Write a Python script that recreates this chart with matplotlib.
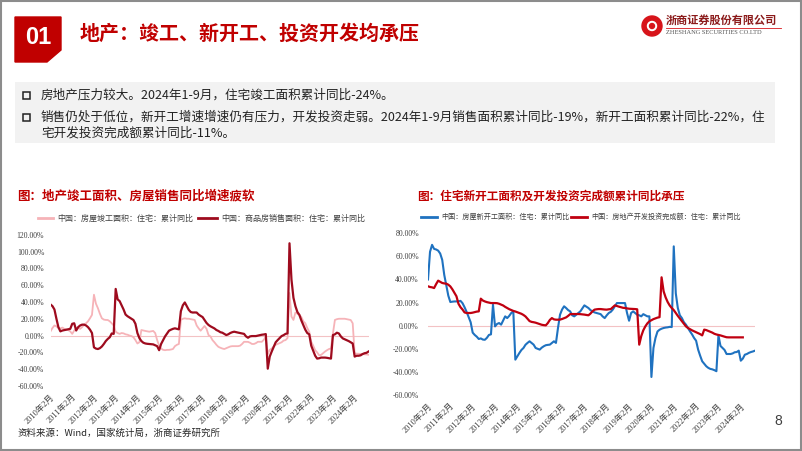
import matplotlib
matplotlib.use("Agg")
from matplotlib import pyplot as plt
from matplotlib.patches import Polygon, Rectangle, Circle

plt.rcParams['font.family'] = ['Noto Sans CJK SC', 'DejaVu Sans']
SERIF = ['Liberation Serif', 'Noto Sans CJK SC']

# x axis: Feb..Dec each year (Jan-Feb combined), 2024 up to Sep
years = list(range(2010, 2025))
tick_labels = [f"{y}年2月" for y in years]

# left chart: 住宅竣工面积 / 商品房销售面积(住宅), cumulative YoY %
completion = [
    5, 9, 12, 11, 9, 8.5, 9.5, 8, 7, 6.5, 5,                          # 2010
    2, 6, 8, 9, 8, 10, 13, 14.6, 17, 20.6, 24.6,                      # 2011
    48.6, 38, 32.6, 26, 20.6, 19, 18.6, 18.5, 17, 14.6, 12,           # 2012
    4.6, 3, 2, 3, 2.6, 1.5, 1, 0, -0.6, -2, -5.4,                     # 2013
    -9.4, -8, 6.6, 6, 5.5, 5, 4.6, 5, 5.5, 3, -5.4,                   # 2014
    -12, -15.4, -17, -17.4, -17, -17, -16.6, -16, -12.6, -11, -10,    # 2015
    18.6, 20, 20.5, 20, 20, 19.5, 19, 18.6, 12, 8.6, 5.8,             # 2016
    8.6, 11.4, 8, 0.6, -1, -5.4, -8, -11, -13.4, -14.5, -15.4,        # 2017
    -16, -15, -14, -13, -12.6, -12.6, -12.6, -12.6, -12, -10, -7.4,   # 2018
    -7.4, -7.5, -8.5, -10, -10, -9, -7.4, -7.4, -7.4, -5, -1.4,       # 2019
    -22, -17, -15.4, -13, -11, -10, -9, -8, -6, -5.4, -3,             # 2020
    50.6, 22.6, 18.6, 27.4, 26, 24.6, 22, 17, 14.6, 9, 4.6,           # 2021
    -7.4, -12, -17.4, -20, -23.4, -23, -21, -19, -17.4, -16, -15.4,   # 2022
    2.6, 18.6, 19.5, 20, 20, 20, 20, 19.5, 19, 18.5, 14.6,            # 2023
    -21.4, -21.5, -21.6, -21.8, -22, -22.3, -22.5, -22.8,             # 2024
]
sales = [
    37, 35, 31, 20, 10, 5, 6, 6.5, 7, 7.5, 8,
    14, 14.6, 6, 10, 12, 13, 13, 12, 10, 7, 3,
    -14, -15.5, -16, -15, -13, -10, -6.5, -4, -2, 2.5, 2,
    55.5, 43, 41, 36, 31, 25, 23, 21.5, 20, 18.5, 14,
    3, -3, -6.5, -8.5, -9.4, -9.8, -10, -10.2, -10.5, -11.5, -12.6,
    -17.4, -10, -5.4, -1, 2.5, 5.8, 7, 8, 8.6, 8, 7.4,
    29, 36, 39.4, 35, 30.6, 28, 27.4, 27.5, 27.4, 25, 23.4,
    22, 18.6, 15, 12.6, 11, 9.8, 8.5, 6.6, 5.5, 4, 3.4,
    2, 0.6, 1.5, 3, 4, 4.6, 4, 3.5, 3, 2.6, 2,
    -1, -2.6, -1, -0.6, -0.6, -0.6, 0, 0.5, 1, 1.3, 1.8,
    -39.4, -25, -19, -13.4, -8, -5.4, -3, -0.6, 0.5, 2, 2.6,
    109.8, 66.6, 45, 35, 28, 24.6, 18, 12.6, 7, 3, 1.5,
    -12, -18, -24, -27.4, -27, -26.2, -26.2, -26.2, -26.5, -27, -27.4,
    0.6, 1.5, 3.4, 2.5, -1, -3.4, -4.5, -5.5, -6.6, -8, -9.4,
    -25, -24, -24, -23.5, -22, -21, -20.5, -19,
]

# right chart: 住宅新开工面积 / 房地产开发投资完成额(住宅), cumulative YoY %
new_starts = [
    40, 64, 70, 66.5, 66, 65, 62.5, 57, 44, 35, 26,
    20.5, 20.8, 21, 21, 21.2, 21.5, 19.5, 16, 12, 7.5, 3,
    -6, -8, -9.5, -11.5, -11, -12, -12.2, -10.5, -8, -7.5, 18.2,
    -0.6, 1.5, 2.3, 0.9, 4.5, 8.1, 6.6, 8.5, 11, 12.4, -29.4,
    -26.5, -23.6, -21, -19.3, -16.5, -14.9, -13.5, -15, -16.4, -19.3, -20,
    -20.7, -19, -17.8, -16.9, -16.6, -16.4, -14.9, -13.5, -14.9, -2, 9.5,
    14, 16.8, 15.3, 13.5, 12.4, 9, 8.1, 9.5, 11, 12.4, 15,
    17.6, 16.5, 15.3, 13.5, 12.4, 11.5, 11, 10.5, 10, 8, 6.6,
    9, 11, 12, 14, 16.8, 19.6, 19.6, 19.6, 19.6, 19.6, 11,
    4.3, 11, 12.4, 11, 9.5, 9, 8.1, 10, 9, 8.1, 8.1,
    -44.4, -19.3, -10.6, -5, -3.5, -2.6, -2, -1.6, -1.4, -1, -1.2,
    68.7, 28, 15.3, 9, 6.6, 3, 0.9, -2, -4.9, -7.5, -10.6,
    -13, -20.7, -26, -30.8, -33, -35.1, -36.5, -37.4, -37.8, -38.5, -39.4,
    -8.4, -17.5, -19.3, -21, -24.5, -24.5, -24.5, -24, -23, -22.8, -21.6,
    -30.3, -28.5, -25.1, -24.5, -23.5, -22.8, -22.3, -21.6,
]
# this series has fewer points in the source chart, so it sits on the first categories
investment = [
    34.1, 33.5, 33.2, 32.6, 36, 39, 38, 37, 36.6, 36.4, 35.5,
    34, 31.5, 28.5, 25.5, 19, 16, 14, 11.5, 11, 11, 11,
    11.3, 11.8, 12.2, 12.4, 23.4, 21.8, 21, 20.4, 20, 19.6, 19.6,
    19.6, 19.5, 19, 18.3, 17.5, 16.3, 15.3, 14.3, 13.5, 12.8, 12.3,
    11.6, 11, 10.3, 9.3, 8, 6, 4, 3.3, 3, 2.6, 2,
    1.3, 0.8, 0.5, 0.3, 2.3, 5, 6.6, 5.5, 5.2, 5.2, 5.3,
    5.8, 6.5, 7.2, 8.5, 10, 10.1, 10.1, 10.1, 10.1, 10, 9.8,
    9.6, 9.3, 9, 10.5, 12.5, 13.9, 14.2, 14.4, 14.4, 14.2, 14,
    13.9, 14.2, 14.4, 16, 17.6, 17, 16.5, 16, 15.5, 15.3, 15,
    14.7, 14.6, 14.5, 14.4, 14.2, -16.4, -9, -4, -0.6, 2, 3.8,
    4.8, 5.7, 6.4, 7, 7.4, 41.9, 29.8, 24.5, 20.5, 17.5, 15.3,
    13.5, 11, 8.5, 6.2, 4, 1.5, -0.6, -2, -3, -4, -4.8,
    -5.5, -6.3, -7.3, -8.4, -3.4, -3.8, -4.5, -5.2, -6, -7, -7.6,
    -8, -8.4, -9, -9.5, -10, -10.1, -10.1, -10.1, -10.1, -10.1, -10.1, -10.1, -10.1,
]

RED = '#C00000'
W, H = 802, 451
fig = plt.figure(figsize=(W / 100, H / 100), dpi=100)

# background layer in pixel coordinates
bg = fig.add_axes([0, 0, 1, 1])
bg.set_xlim(0, W)
bg.set_ylim(H, 0)
bg.axis('off')

bg.add_patch(Rectangle((0.8, 0.8), W - 1.6, H - 1.6, fill=False, ec='#8c8c8c', lw=1.5))
bg.add_patch(Polygon([(15, 17), (61, 17), (61, 50), (47, 62), (15, 62)], closed=True, color=RED))
bg.text(38, 37, '01', color='white', fontsize=17, fontweight='bold',
        family='Liberation Sans', ha='center', va='center')
bg.text(80, 33, '地产：竣工、新开工、投资开发均承压', color=RED, fontsize=14.4,
        fontweight='bold', va='center')

# logo
bg.add_patch(Circle((652, 26), 10, color='#d7141a'))
bg.add_patch(Circle((652, 26), 4.5, color='white'))
bg.add_patch(Circle((652, 26), 2.5, color='#d7141a'))
bg.text(666, 20, '浙商证券股份有限公司', color='#8b1a1a', fontsize=8, fontweight='bold', va='center')
bg.plot([666, 781], [28, 28], color='#d7141a', lw=0.6)
bg.text(666, 33, 'ZHESHANG SECURITIES CO.LTD', color='#555555', fontsize=4.6,
        family='Liberation Serif', va='center')

# summary box
bg.add_patch(Rectangle((15, 82), 760, 61, color='#f2f2f2', lw=0))
for yb in (95, 117):
    bg.add_patch(Rectangle((23, yb - 3.5), 7, 7, fill=False, ec='#222222', lw=1.1))
bg.text(41, 95, '房地产压力较大。2024年1-9月，住宅竣工面积累计同比-24%。',
        fontsize=9.05, color='#222222', va='center')
bg.text(41, 117, '销售仍处于低位，新开工增速增速仍有压力，开发投资走弱。2024年1-9月销售面积累计同比-19%，新开工面积累计同比-22%，住',
        fontsize=9.05, color='#222222', va='center')
bg.text(41, 133, '宅开发投资完成额累计同比-11%。', fontsize=9.05, color='#222222', va='center')

# chart titles
bg.text(17, 196, '图：地产竣工面积、房屋销售同比增速疲软', color=RED, fontsize=9,
        fontweight='bold', va='center')
bg.text(417, 196, '图：住宅新开工面积及开发投资完成额累计同比承压', color=RED, fontsize=8.4,
        fontweight='bold', va='center')

# legends
def legend_item(x0, x1, y, color, text, fs):
    bg.plot([x0, x1], [y, y], color=color, lw=2)
    bg.text(x1 + 4, y, text, fontsize=fs, color='#404040', va='center')

PINK = '#f6b3b8'
DARK = '#9e0b1e'
BLUE = '#1f72c0'
legend_item(38, 53, 218, PINK, '中国：房屋竣工面积：住宅：累计同比', 5.8)
legend_item(198, 217, 218, DARK, '中国：商品房销售面积：住宅：累计同比', 5.8)
legend_item(421, 437, 217, BLUE, '中国：房屋新开工面积：住宅：累计同比', 5.1)
legend_item(571, 587, 217, '#c00010', '中国：房地产开发投资完成额：住宅：累计同比', 5.1)

bg.text(17, 433, '资料来源：Wind，国家统计局，浙商证券研究所', fontsize=6.8,
        color='#262626', va='center')
bg.text(778, 421, '8', fontsize=10, color='#404040', ha='center', va='center',
        family='Liberation Sans')


def chart_axes(x0, y0, x1, y1):
    ax = fig.add_axes([x0 / W, 1 - y1 / H, (x1 - x0) / W, (y1 - y0) / H])
    ax.patch.set_alpha(0)
    for s in ax.spines.values():
        s.set_visible(False)
    return ax


def style(ax, lo, hi, ypad):
    ax.set_xlim(0, len(new_starts) - 1)
    ax.set_ylim(lo, hi)
    ax.axhline(0, color='#f3c2c4', lw=0.8, zorder=0)
    ticks = list(range(lo, hi + 1, 20))
    ax.set_yticks(ticks, [f"{t:.2f}%" for t in ticks], fontsize=5.6,
                  family=SERIF, color='#404040')
    ax.set_xticks(list(range(0, len(new_starts), 11)), tick_labels, rotation=45,
                  ha='right', va='top', rotation_mode='anchor', fontsize=6,
                  family=SERIF, color='#404040')
    ax.tick_params(axis='y', length=0, pad=ypad)
    ax.tick_params(axis='x', length=0, pad=5)


x_idx = list(range(len(new_starts)))

ax1 = chart_axes(50.5, 234.7, 368.5, 386)
ax1.plot(x_idx, completion, color=PINK, lw=1.3)
ax1.plot(x_idx, sales, color=DARK, lw=1.6)
style(ax1, -60, 120, 4.5)

ax2 = chart_axes(428, 233.3, 755, 395)
ax2.plot(x_idx, new_starts, color=BLUE, lw=1.5)
ax2.plot(list(range(len(investment))), investment, color='#c00010', lw=1.6)
style(ax2, -60, 80, 6.5)

fig.savefig('out.png', dpi=100)
